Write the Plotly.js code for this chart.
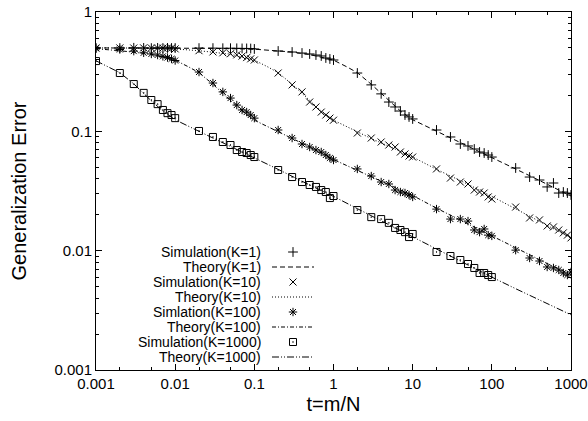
<!DOCTYPE html>
<html><head><meta charset="utf-8">
<script src="https://cdn.plot.ly/plotly-3.0.1.min.js"></script>
<style>html,body{margin:0;padding:0;background:#fff}#chart{width:588px;height:421px}</style>
</head><body><div id="chart"></div>
<script>
// ---- data ----
const tSim = [0.001,0.002,0.003,0.004,0.005,0.006,0.007,0.008,0.009,
  0.01,0.02,0.03,0.04,0.05,0.06,0.07,0.08,0.09,
  0.1,0.2,0.3,0.4,0.5,0.6,0.7,0.8,0.9,
  1,2,3,4,5,6,7,8,9,
  10,20,30,40,50,60,70,80,90,
  100,200,300,400,500,600,700,800,900,1000];
const simK1 = [0.500,0.499,0.501,0.500,0.498,0.500,0.499,0.500,0.499,
  0.499,0.498,0.498,0.497,0.497,0.496,0.495,0.495,0.494,
  0.490,0.471,0.462,0.453,0.445,0.436,0.428,0.412,0.404,
  0.396,0.308,0.245,0.206,0.176,0.160,0.148,0.137,0.132,
  0.127,0.1026,0.0897,0.0783,0.0754,0.0711,0.0671,0.0658,0.0633,
  0.0609,0.0493,0.0414,0.0391,0.0342,0.0369,0.0304,0.0310,0.0304,0.0293];
const simK10 = [0.500,0.500,0.499,0.500,0.499,0.499,0.498,0.499,0.498,
  0.491,0.474,0.463,0.455,0.447,0.437,0.427,0.415,0.405,
  0.396,0.308,0.245,0.214,0.176,0.160,0.145,0.137,0.129,
  0.124,0.0968,0.0879,0.0814,0.0768,0.0739,0.0671,0.0646,0.0621,
  0.0609,0.0484,0.0406,0.0376,0.0362,0.0322,0.0310,0.0304,0.0282,
  0.0271,0.0232,0.0188,0.0181,0.0161,0.0158,0.0149,0.0141,0.0135,0.0128];
const simK100 = [0.495,0.485,0.470,0.455,0.445,0.436,0.425,0.415,0.405,
  0.392,0.314,0.254,0.214,0.190,0.166,0.151,0.145,0.137,
  0.129,0.1026,0.0879,0.0783,0.0739,0.0697,0.0671,0.0633,0.0598,
  0.0575,0.0484,0.0422,0.0376,0.0362,0.0322,0.0310,0.0304,0.0293,
  0.0282,0.0223,0.0184,0.0184,0.0177,0.0149,0.0143,0.0152,0.0135,
  0.0133,0.0101,0.00868,0.00819,0.0073,0.00716,0.00689,0.0065,0.00625,0.00663];
const tSim1000 = [0.001,0.002,0.003,0.004,0.005,0.006,0.007,0.008,0.009,
  0.01,0.02,0.03,0.04,0.05,0.06,0.07,0.08,0.09,
  0.1,0.2,0.3,0.4,0.5,0.6,0.7,0.8,0.9,
  1,2,3,4,5,6,7,8,9,
  10,20,30,40,50,60,70,80,90,100];
const simK1000 = [0.388,0.308,0.249,0.210,0.183,0.169,0.151,0.142,0.137,
  0.129,0.1007,0.0897,0.0814,0.0768,0.0697,0.0671,0.0658,0.0633,
  0.0609,0.0474,0.0414,0.0376,0.0355,0.0342,0.0322,0.0310,0.0276,
  0.0287,0.0219,0.0191,0.0184,0.0171,0.0155,0.0149,0.0143,0.0130,
  0.0138,0.00975,0.00902,0.00835,0.00773,0.00716,0.0065,0.0065,0.00625,0.00601];

const tTh1 = [0.001,0.01,0.03,0.1,0.2,0.3,0.5,0.7,1,1.5,2,3,4,5,7,10,15,20,30,50,70,100,200,300,500,700,1000];
const thK1 = [0.5,0.498,0.496,0.488,0.474,0.462,0.44,0.42,0.395,0.345,0.31,0.248,0.208,0.18,0.148,0.125,0.11,0.101,0.089,0.0757,0.0683,0.061,0.0486,0.0425,0.036,0.0322,0.0287];
const tTh10 = [0.001,0.003,0.01,0.02,0.05,0.1,0.15,0.2,0.3,0.5,0.7,1,2,3,5,7,10,20,50,100,200,500,1000];
const thK10 = [0.5,0.499,0.49,0.474,0.443,0.395,0.345,0.31,0.248,0.18,0.148,0.124,0.099,0.087,0.075,0.068,0.061,0.048,0.036,0.0285,0.0224,0.0163,0.0128];
const tTh100 = [0.001,0.002,0.005,0.01,0.015,0.02,0.03,0.05,0.07,0.1,0.2,0.3,0.5,1,2,5,10,20,50,100,200,500,1000];
const thK100 = [0.492,0.474,0.443,0.395,0.345,0.31,0.248,0.18,0.148,0.124,0.099,0.087,0.074,0.058,0.047,0.036,0.029,0.0227,0.0168,0.0132,0.0105,0.0078,0.0063];
const tTh1000 = [0.001,0.002,0.003,0.005,0.007,0.01,0.02,0.05,0.1,0.2,0.5,1,2,5,10,20,50,100,200,500,1000];
const thK1000 = [0.39,0.31,0.25,0.18,0.148,0.125,0.1,0.075,0.06,0.048,0.0355,0.0285,0.0225,0.0165,0.013,0.0102,0.0076,0.006,0.0048,0.0036,0.0029];

const seriesNames = ['Simulation(K=1)','Theory(K=1)','Simulation(K=10)','Theory(K=10)',
  'Simlation(K=100)','Theory(K=100)','Simulation(K=1000)','Theory(K=1000)'];
const xTickVals = [0.001,0.01,0.1,1,10,100,1000];
const xTickText = ['0.001','0.01','0.1','1','10','100','1000'];
const yTickVals = [0.001,0.01,0.1,1];
const yTickText = ['0.001','0.01','0.1','1'];

// ---- styles ----
const FONT = '"Liberation Sans", Arial, Helvetica, sans-serif';
const INK = '#000';
const symbols = ['cross-thin-open','x-thin-open','asterisk-open','square-open-dot'];
const markerSize = 7;
const dashes = ['5px,3px','1px,2px','4px,2px,1px,2px','7px,2px,1px,2px,1px,2px'];
const simData = [[tSim,simK1],[tSim,simK10],[tSim,simK100],[tSim1000,simK1000]];
const thData = [[tTh1,thK1],[tTh10,thK10],[tTh100,thK100],[tTh1000,thK1000]];

const traces = [];
for (let i = 0; i < 4; i++) {
  traces.push({x: thData[i][0], y: thData[i][1], type:'scatter', mode:'lines',
    line:{color:INK, width:1, dash:dashes[i]}, showlegend:false, hoverinfo:'skip'});
  traces.push({x: simData[i][0], y: simData[i][1], type:'scatter', mode:'markers',
    marker:{symbol:symbols[i], size:markerSize, color:INK, line:{color:INK, width:1}}, showlegend:false});
}

// ---- custom legend (text left of sample, gnuplot style), in a pixel overlay axis ----
const PW = 475, PH = 358;          // plot area size (px)
const legTextX = 166, legSampleX = 197, legLineX0 = 176, legLineX1 = 218;
const legRow0 = 240, legStep = 15;
const annotations = [];
for (let r = 0; r < seriesNames.length; r++) {
  const yy = legRow0 + r * legStep;
  const k = Math.floor(r / 2);
  annotations.push({xref:'x2', yref:'y2', x:legTextX, y:yy, text:seriesNames[r],
    showarrow:false, xanchor:'right', yanchor:'middle', borderpad:0,
    font:{family:FONT, size:14, color:INK}});
  if (r % 2 === 0) {
    traces.push({x:[legSampleX], y:[yy], xaxis:'x2', yaxis:'y2', type:'scatter', mode:'markers',
      marker:{symbol:symbols[k], size:markerSize, color:INK, line:{color:INK, width:1}}, showlegend:false, hoverinfo:'skip'});
  } else {
    traces.push({x:[legLineX0, legLineX1], y:[yy, yy], xaxis:'x2', yaxis:'y2', type:'scatter', mode:'lines',
      line:{color:INK, width:1, dash:dashes[k]}, showlegend:false, hoverinfo:'skip'});
  }
}

const xMinor = [], yMinor = [];
for (let e = -3; e < 3; e++) { [2,5].forEach(d => xMinor.push(d * Math.pow(10, e))); }
for (let e = -3; e < 0; e++) { for (let d = 2; d <= 9; d++) yMinor.push(d * Math.pow(10, e)); }

const axisCommon = {
  type:'log', showline:true, linecolor:INK, linewidth:1, mirror:'ticks',
  ticks:'inside', ticklen:6, tickwidth:1, tickcolor:INK, showgrid:false, zeroline:false,
  tickfont:{family:FONT, size:15, color:INK}, tickmode:'array'
};

const layout = {
  width:588, height:421,
  margin:{l:96, r:17, t:12, b:51, pad:0},
  paper_bgcolor:'#fff', plot_bgcolor:'#fff',
  font:{family:FONT, color:INK},
  showlegend:false,
  xaxis: Object.assign({}, axisCommon, {
    range:[-3,3], tickvals:xTickVals, ticktext:xTickText,
    minor:{tickmode:'array', tickvals:xMinor, ticks:'inside', ticklen:3, tickwidth:1, tickcolor:INK, showgrid:false},
    title:{text:'t=m/N', font:{family:FONT, size:20, color:INK}, standoff:5},
    automargin:false
  }),
  yaxis: Object.assign({}, axisCommon, {
    range:[-3,0], tickvals:yTickVals, ticktext:yTickText,
    minor:{tickmode:'array', tickvals:yMinor, ticks:'inside', ticklen:3, tickwidth:1, tickcolor:INK, showgrid:false},
    title:{text:'Generalization Error', font:{family:FONT, size:20, color:INK}, standoff:22},
    automargin:false
  }),
  xaxis2:{overlaying:'x', anchor:'y2', range:[0,PW], visible:false, fixedrange:true},
  yaxis2:{overlaying:'y', anchor:'x2', range:[PH,0], visible:false, fixedrange:true},
  annotations: annotations
};

Plotly.newPlot('chart', traces, layout, {staticPlot:true, displayModeBar:false});
</script>
</body></html>
